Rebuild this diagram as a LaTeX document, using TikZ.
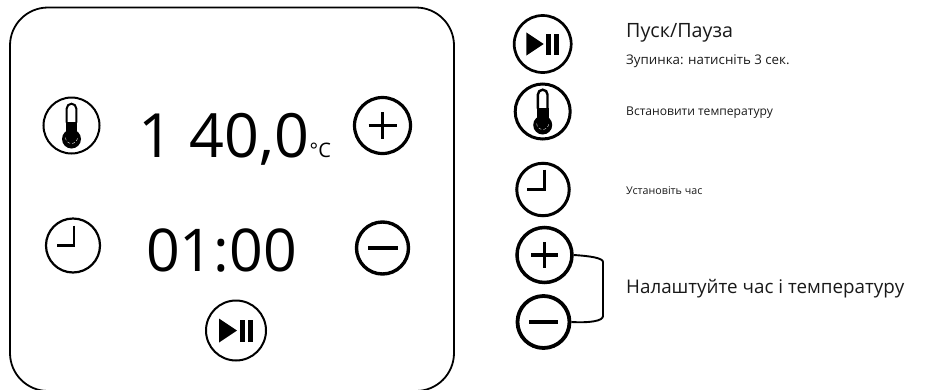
\documentclass[tikz,border=0pt]{standalone}
\usepackage{fontspec}
\setmainfont{Open Sans}
\tikzset{
  ico/.style={circle,draw=black,fill=none,inner sep=0pt,minimum size=#1},
  lab/.style={anchor=base west,inner sep=0pt,text=black!90},
  big/.style={anchor=base,inner sep=0pt},
}
\newcommand{\thermoglyph}[3]{% centre x, y, line width
  \begin{scope}[shift={(#1,#2)}]
    \draw[line width=#3] (-4.8,-3) -- (-4.8,-17) arc (180:360:4.8) -- (4.8,-3);
    \fill[black] (-5.8,-4) rectangle (5.8,8);
    \fill[black] (0,13.5) circle (9.5);
    \draw[white,line width=.35pt,densely dashed] (-6,12) arc (180:0:6);
  \end{scope}}
\newcommand{\clockglyph}[3]{%
  \begin{scope}[shift={(#1,#2)}]
    \draw[line width=#3,line cap=butt,line join=miter] (1,-20) -- (1,0) -- (-16,0);
  \end{scope}}
\newcommand{\playglyph}[3]{%
  \begin{scope}[shift={(#1,#2)},scale=#3]
    \fill[black] (-17,-12) -- (-17,12) -- (1,0) -- cycle;
    \fill[black] (3.5,-10.5) rectangle (8.5,11);
    \fill[black] (11.5,-10.5) rectangle (17,11);
  \end{scope}}
\begin{document}
\begin{tikzpicture}[x=1pt,y=-1pt]
\useasboundingbox (0,0) rectangle (926,389);
\clip (0,0) rectangle (926,389);
\draw[line width=1.8pt,rounded corners=38pt] (10,7.5) rectangle (454,391);

\node[ico=56pt,line width=2pt] (thA) at (71.5,125.5) {};
\thermoglyph{71.5}{125.5}{2pt}
\node[ico=56pt,line width=3.2pt] (plA) at (382.5,125.5) {};
\draw[line width=3.2pt] (382.5,112) -- (382.5,139) (368.5,125.5) -- (397,125.5);
\node[ico=54pt,line width=2.2pt] (clA) at (73,245.5) {};
\clockglyph{73}{245.5}{2.4pt}
\node[ico=52pt,line width=3.4pt] (miA) at (382.5,248) {};
\draw[line width=3.4pt] (368,248) -- (398,248);
\node[ico=60pt,line width=2pt] (plyA) at (236,330.5) {};
\playglyph{236}{330.5}{1}

\node[big,font=\fontsize{61}{61}\selectfont] (temp) at (224,157) {1 40,0};
\node[anchor=base west,inner sep=0pt,font=\fontsize{20}{20}\selectfont] (unit) at (309.5,157) {°C};
\node[big,font=\fontsize{59}{59}\selectfont] (time) at (221.5,271) {01:00};

\node[ico=57pt,line width=2.7pt] (plyB) at (542.7,44) {};
\playglyph{542.7}{44}{.96}
\node[ico=55pt,line width=3pt] (thB) at (542.7,111.5) {};
\thermoglyph{542.7}{111.5}{2.4pt}
\node[ico=52.5pt,line width=3pt] (clB) at (543,189.5) {};
\clockglyph{543}{189.5}{3pt}
\node[ico=55pt,line width=3.5pt] (plB) at (544.5,255) {};
\draw[line width=3.4pt] (544.5,242) -- (544.5,268) (531,255) -- (558,255);
\node[ico=52pt,line width=3.8pt] (miB) at (543.5,322) {};
\draw[line width=4.4pt] (529,322) -- (558,322);
\draw[line width=1.9pt,line join=round] (plB.east) .. controls (590,256) and (603,258) .. (603,262) -- (603,316) .. controls (603,321) and (590,323) .. (miB.east);

\node[lab,font=\fontsize{19.7}{19.7}\selectfont] (t1) at (626,37.7) {Пуск/Пауза};
\node[lab,font=\fontsize{13.3}{13.3}\selectfont] (t2) at (626,64) {Зупинка: натисніть 3 сек.};
\node[lab,font=\fontsize{12.1}{12.1}\selectfont] (t3) at (626,115.5) {Встановити температуру};
\node[lab,font=\fontsize{10.7}{10.7}\selectfont] (t4) at (626,194) {Установіть час};
\node[lab,font=\fontsize{18.8}{18.8}\selectfont] (t5) at (626,293) {Налаштуйте час і температуру};
\end{tikzpicture}
\end{document}
